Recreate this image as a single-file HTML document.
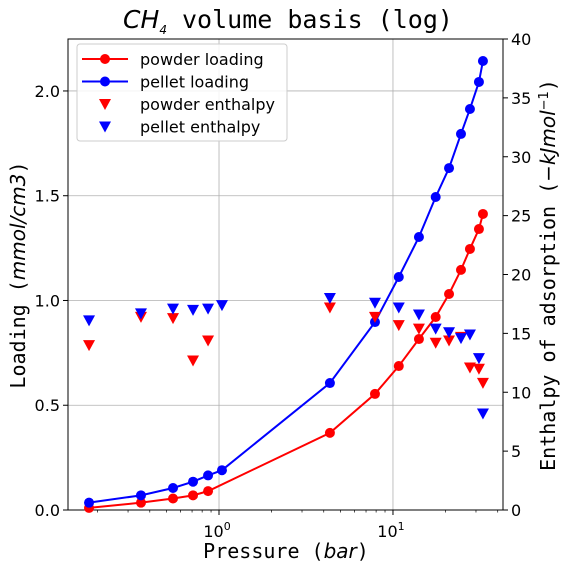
<!DOCTYPE html>
<html><head><meta charset="utf-8"><style>
html,body{margin:0;padding:0;background:#fff;}
svg{display:block;}
.t{font-family:"DejaVu Sans","Liberation Sans",sans-serif;font-size:16px;fill:#000;}
.m{font-family:"DejaVu Sans Mono","Liberation Mono",monospace;fill:#000;}
</style></head><body>
<svg id="c" width="568" height="569" viewBox="0 0 568 569" xmlns="http://www.w3.org/2000/svg">
<text class="m" x="288" y="28" font-size="25" text-anchor="middle"><tspan font-family="DejaVu Sans" font-style="italic">CH</tspan><tspan font-family="DejaVu Sans" font-style="italic" font-size="12" dy="6">4</tspan><tspan dy="-6"> volume basis (log)</tspan></text>
<text class="m" x="286" y="558" font-size="20" text-anchor="middle">Pressure (<tspan font-family="DejaVu Sans" font-style="italic">bar</tspan>)</text>
<text class="m" font-size="20" text-anchor="middle" transform="translate(25,275) rotate(-90)">Loading (<tspan font-family="DejaVu Sans" font-style="italic">mmol/cm3</tspan>)</text>
<text class="m" font-size="20" text-anchor="middle" transform="translate(555,275) rotate(-90)">Enthalpy of adsorption (<tspan font-family="DejaVu Sans" font-style="italic">−kJmol</tspan><tspan font-family="DejaVu Sans" font-size="13" dy="-7">−1</tspan><tspan dy="7">)</tspan></text>
<g id="plot"></g>
</svg>
<script>
const powderP=[0.179,0.356,0.544,0.709,0.865,4.34,7.88,10.8,14.1,17.6,21.0,24.6,27.7,31.2,32.9];
const powderLoad=[0.01,0.035,0.055,0.07,0.09,0.368,0.554,0.687,0.816,0.921,1.031,1.146,1.246,1.341,1.413];
const pelletP=[0.179,0.356,0.544,0.709,0.865,1.04,4.34,7.88,10.8,14.1,17.6,21.0,24.6,27.7,31.2,32.9];
const pelletLoad=[0.035,0.07,0.105,0.135,0.165,0.19,0.606,0.897,1.112,1.303,1.494,1.632,1.795,1.914,2.043,2.143];
const powderH=[14.0,16.4,16.3,12.7,14.4,17.2,16.4,15.7,15.4,14.2,14.4,14.7,12.1,12.0,10.8];
const pelletH=[16.1,16.7,17.1,17.0,17.1,17.4,18.0,17.6,17.2,16.6,15.4,15.1,14.6,14.9,12.9,8.2];
const yTicks=[0.0,0.5,1.0,1.5,2.0];
const y2Ticks=[0,5,10,15,20,25,30,35,40];
const xMajor=[1,10];

const L=68,R=503,T=39,B=510;
const xLo=Math.log10(0.1355),xHi=Math.log10(42.9);
const X=p=>L+(Math.log10(p)-xLo)/(xHi-xLo)*(R-L);
const Y=v=>B-v/2.248*(B-T);
const Y2=v=>B-v/40*(B-T);
const NS="http://www.w3.org/2000/svg";
const g=document.getElementById('plot');
function mk(tag,at,parent){const e=document.createElementNS(NS,tag);for(const k in at)e.setAttribute(k,at[k]);(parent||g).appendChild(e);return e;}
xMajor.forEach(p=>{const e=mk('line',{x1:X(p),x2:X(p),y1:T,y2:B,stroke:'#b0b0b0','stroke-width':0.8});

});
yTicks.forEach(v=>{const e=mk('line',{x1:L,x2:R,y1:Y(v),y2:Y(v),stroke:'#b0b0b0','stroke-width':0.8});

});
const fr=mk('rect',{x:L,y:T,width:R-L,height:B-T,fill:'none',stroke:'#000','stroke-width':1});


xMajor.forEach(p=>{mk('line',{x1:X(p),x2:X(p),y1:B,y2:B+5,stroke:'#000'});
const t=mk('text',{x:X(p)-2,y:B+27,'text-anchor':'middle',class:'t'});


t.innerHTML='10<tspan font-size="11" dy="-7">'+Math.log10(p)+'</tspan>';});
for(let d=-1;d<=1;d++)for(let k=2;k<=9;k++){const p=k*Math.pow(10,d);if(p<0.1355||p>42.9)continue;
mk('line',{x1:X(p),x2:X(p),y1:B,y2:B+2.5,stroke:'#000','stroke-width':0.7});}
yTicks.forEach(v=>{mk('line',{x1:L-5,x2:L,y1:Y(v),y2:Y(v),stroke:'#000'});
const t=mk('text',{x:L-8,y:Y(v)+6,'text-anchor':'end',class:'t'});


t.textContent=v.toFixed(1);});
y2Ticks.forEach(v=>{mk('line',{x1:R,x2:R+5,y1:Y2(v),y2:Y2(v),stroke:'#000'});
const t=mk('text',{x:R+8,y:Y2(v)+6,'text-anchor':'start',class:'t'});


t.textContent=v;});
function line(P,V,col,name){const pl=mk('polyline',{points:P.map((p,i)=>X(p)+','+Y(V[i])).join(' '),fill:'none',stroke:col,'stroke-width':2});


P.forEach((p,i)=>{const c=mk('circle',{cx:X(p),cy:Y(V[i]),r:5,fill:col});

});}
function tri(x,y,col){return mk('polygon',{points:`${x-6},${y-5} ${x+6},${y-5} ${x},${y+6}`,fill:col});}
function tris(P,V,col,name){P.forEach((p,i)=>{const e=tri(X(p),Y2(V[i]),col);

});}
line(powderP,powderLoad,'#ff0000','powder-loading');
line(pelletP,pelletLoad,'#0000ff','pellet-loading');
tris(powderP,powderH,'#ff0000','powder-enthalpy');
tris(pelletP,pelletH,'#0000ff','pellet-enthalpy');
const lg=mk('g',{});


mk('rect',{x:77,y:44,width:210,height:97,rx:3,fill:'#fff','fill-opacity':0.85,stroke:'#ccc'},lg);
const items=[['powder loading','#ff0000',1],['pellet loading','#0000ff',1],['powder enthalpy','#ff0000',0],['pellet enthalpy','#0000ff',0]];
items.forEach((it,i)=>{const y=59+i*22.5;const e=mk('g',{},lg);


if(it[2]){mk('line',{x1:82,x2:128,y1:y,y2:y,stroke:it[1],'stroke-width':2},e);mk('circle',{cx:105,cy:y,r:5,fill:it[1]},e);}
else{mk('polygon',{points:`99,${y-5} 111,${y-5} 105,${y+6}`,fill:it[1]},e);}
const t=mk('text',{x:140,y:y+6,class:'t','font-size':'17'},e);t.textContent=it[0];});
</script>
</body></html>
